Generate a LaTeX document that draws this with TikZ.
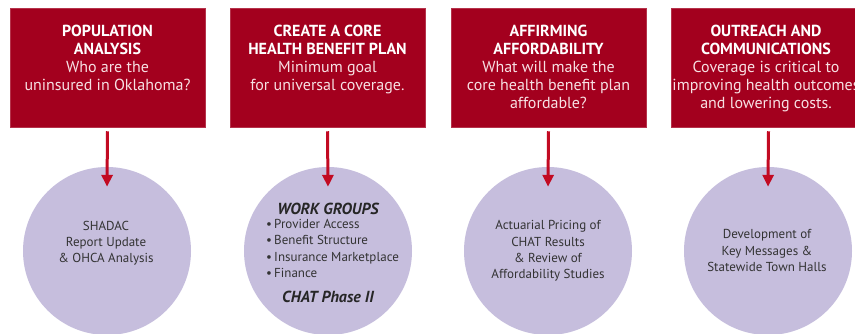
\documentclass[tikz,border=0pt]{standalone}
\usepackage{fontspec}
\setmainfont{PT Sans}
\usetikzlibrary{arrows.meta}
\definecolor{boxred}{HTML}{A3001E}
\definecolor{boxtxt}{HTML}{F7E0E3}
\definecolor{arrred}{HTML}{C20A22}
\definecolor{circfill}{HTML}{C6BEDD}
\definecolor{circtxt}{HTML}{333333}
\tikzset{
  redbox/.style={rectangle, fill=boxred, draw=boxred!80!white, line width=0.5pt, minimum width=195pt, minimum height=119pt, inner sep=0pt},
  boxlabel/.style={anchor=north, inner sep=0pt, align=center, text=boxtxt, font=\fontsize{16}{18}\selectfont},
  bubble/.style={circle, fill=circfill, minimum size=168pt, inner sep=0pt},
  bubbletext/.style={inner sep=0pt, align=center, text=circtxt, font=\fontsize{13}{16.3}\selectfont},
  bubblehead/.style={inner sep=0pt, text=black!85, font=\fontsize{16}{16}\selectfont\bfseries\itshape},
  conn/.style={draw=arrred, line width=3pt, -{Triangle[width=11pt,length=12pt]}},
}
\newcommand{\ttl}[1]{{\bfseries\color{white}#1}}
\begin{document}
\begin{tikzpicture}[x=1pt,y=-1pt]
\useasboundingbox (0,0) rectangle (855,333);
\clip (0,0) rectangle (855,333);
\fill[white] (0,0) rectangle (855,333);
% boxes
\node[redbox] (b1) at (107.5,67.5) {};
\node[redbox] (b2) at (327.5,67.5) {};
\node[redbox] (b3) at (548.5,67.5) {};
\node[redbox] (b4) at (768.5,67.5) {};
\node[boxlabel] (t1) at (107.5,25) {\ttl{POPULATION}\\\ttl{ANALYSIS}\\Who are the\\uninsured in Oklahoma?};
\node[boxlabel] (t2) at (327.5,25) {\ttl{CREATE A CORE}\\\ttl{HEALTH BENEFIT PLAN}\\Minimum goal\\for universal coverage.};
\node[boxlabel] (t3) at (548.5,25) {\ttl{AFFIRMING}\\\ttl{AFFORDABILITY}\\What will make the\\core health benefit plan\\affordable?};
\node[boxlabel] (t4) at (766,25) {\ttl{OUTREACH AND}\\\ttl{COMMUNICATIONS}\\Coverage is critical to\\improving health outcomes\\and lowering costs.};
% circles
\node[bubble] (c1) at (107,251) {};
\node[bubble] (c2) at (328,251) {};
\node[bubble] (c3) at (548,251) {};
\node[bubble] (c4) at (768,251) {};
\node[bubbletext] (s1) at (106,243) {SHADAC\\Report Update\\\&\ OHCA Analysis};
\node[bubblehead] (w1) at (328,209) {WORK GROUPS};
\node[bubbletext, anchor=north west, align=left] (w2) at (266,219) {\textbullet\,Provider Access\\\textbullet\,Benefit Structure\\\textbullet\,Insurance Marketplace\\\textbullet\,Finance};
\node[bubblehead] (w3) at (328,297) {CHAT Phase II};
\node[bubbletext] (s3) at (548,251) {Actuarial Pricing of\\CHAT Results\\\&\ Review of\\Affordability Studies};
\node[bubbletext] (s4) at (767,250.5) {Development of\\Key Messages \&\\Statewide Town Halls};
% connectors
\draw[conn] ([yshift=-4pt]b1.south) -- ([yshift=-20pt]c1.north);
\draw[conn] ([yshift=-4pt]b2.south) -- ([yshift=-20pt]c2.north);
\draw[conn] ([yshift=-4pt]b3.south) -- ([yshift=-20pt]c3.north);
\draw[conn] ([yshift=-4pt]b4.south) -- ([yshift=-20pt]c4.north);
\end{tikzpicture}
\end{document}
